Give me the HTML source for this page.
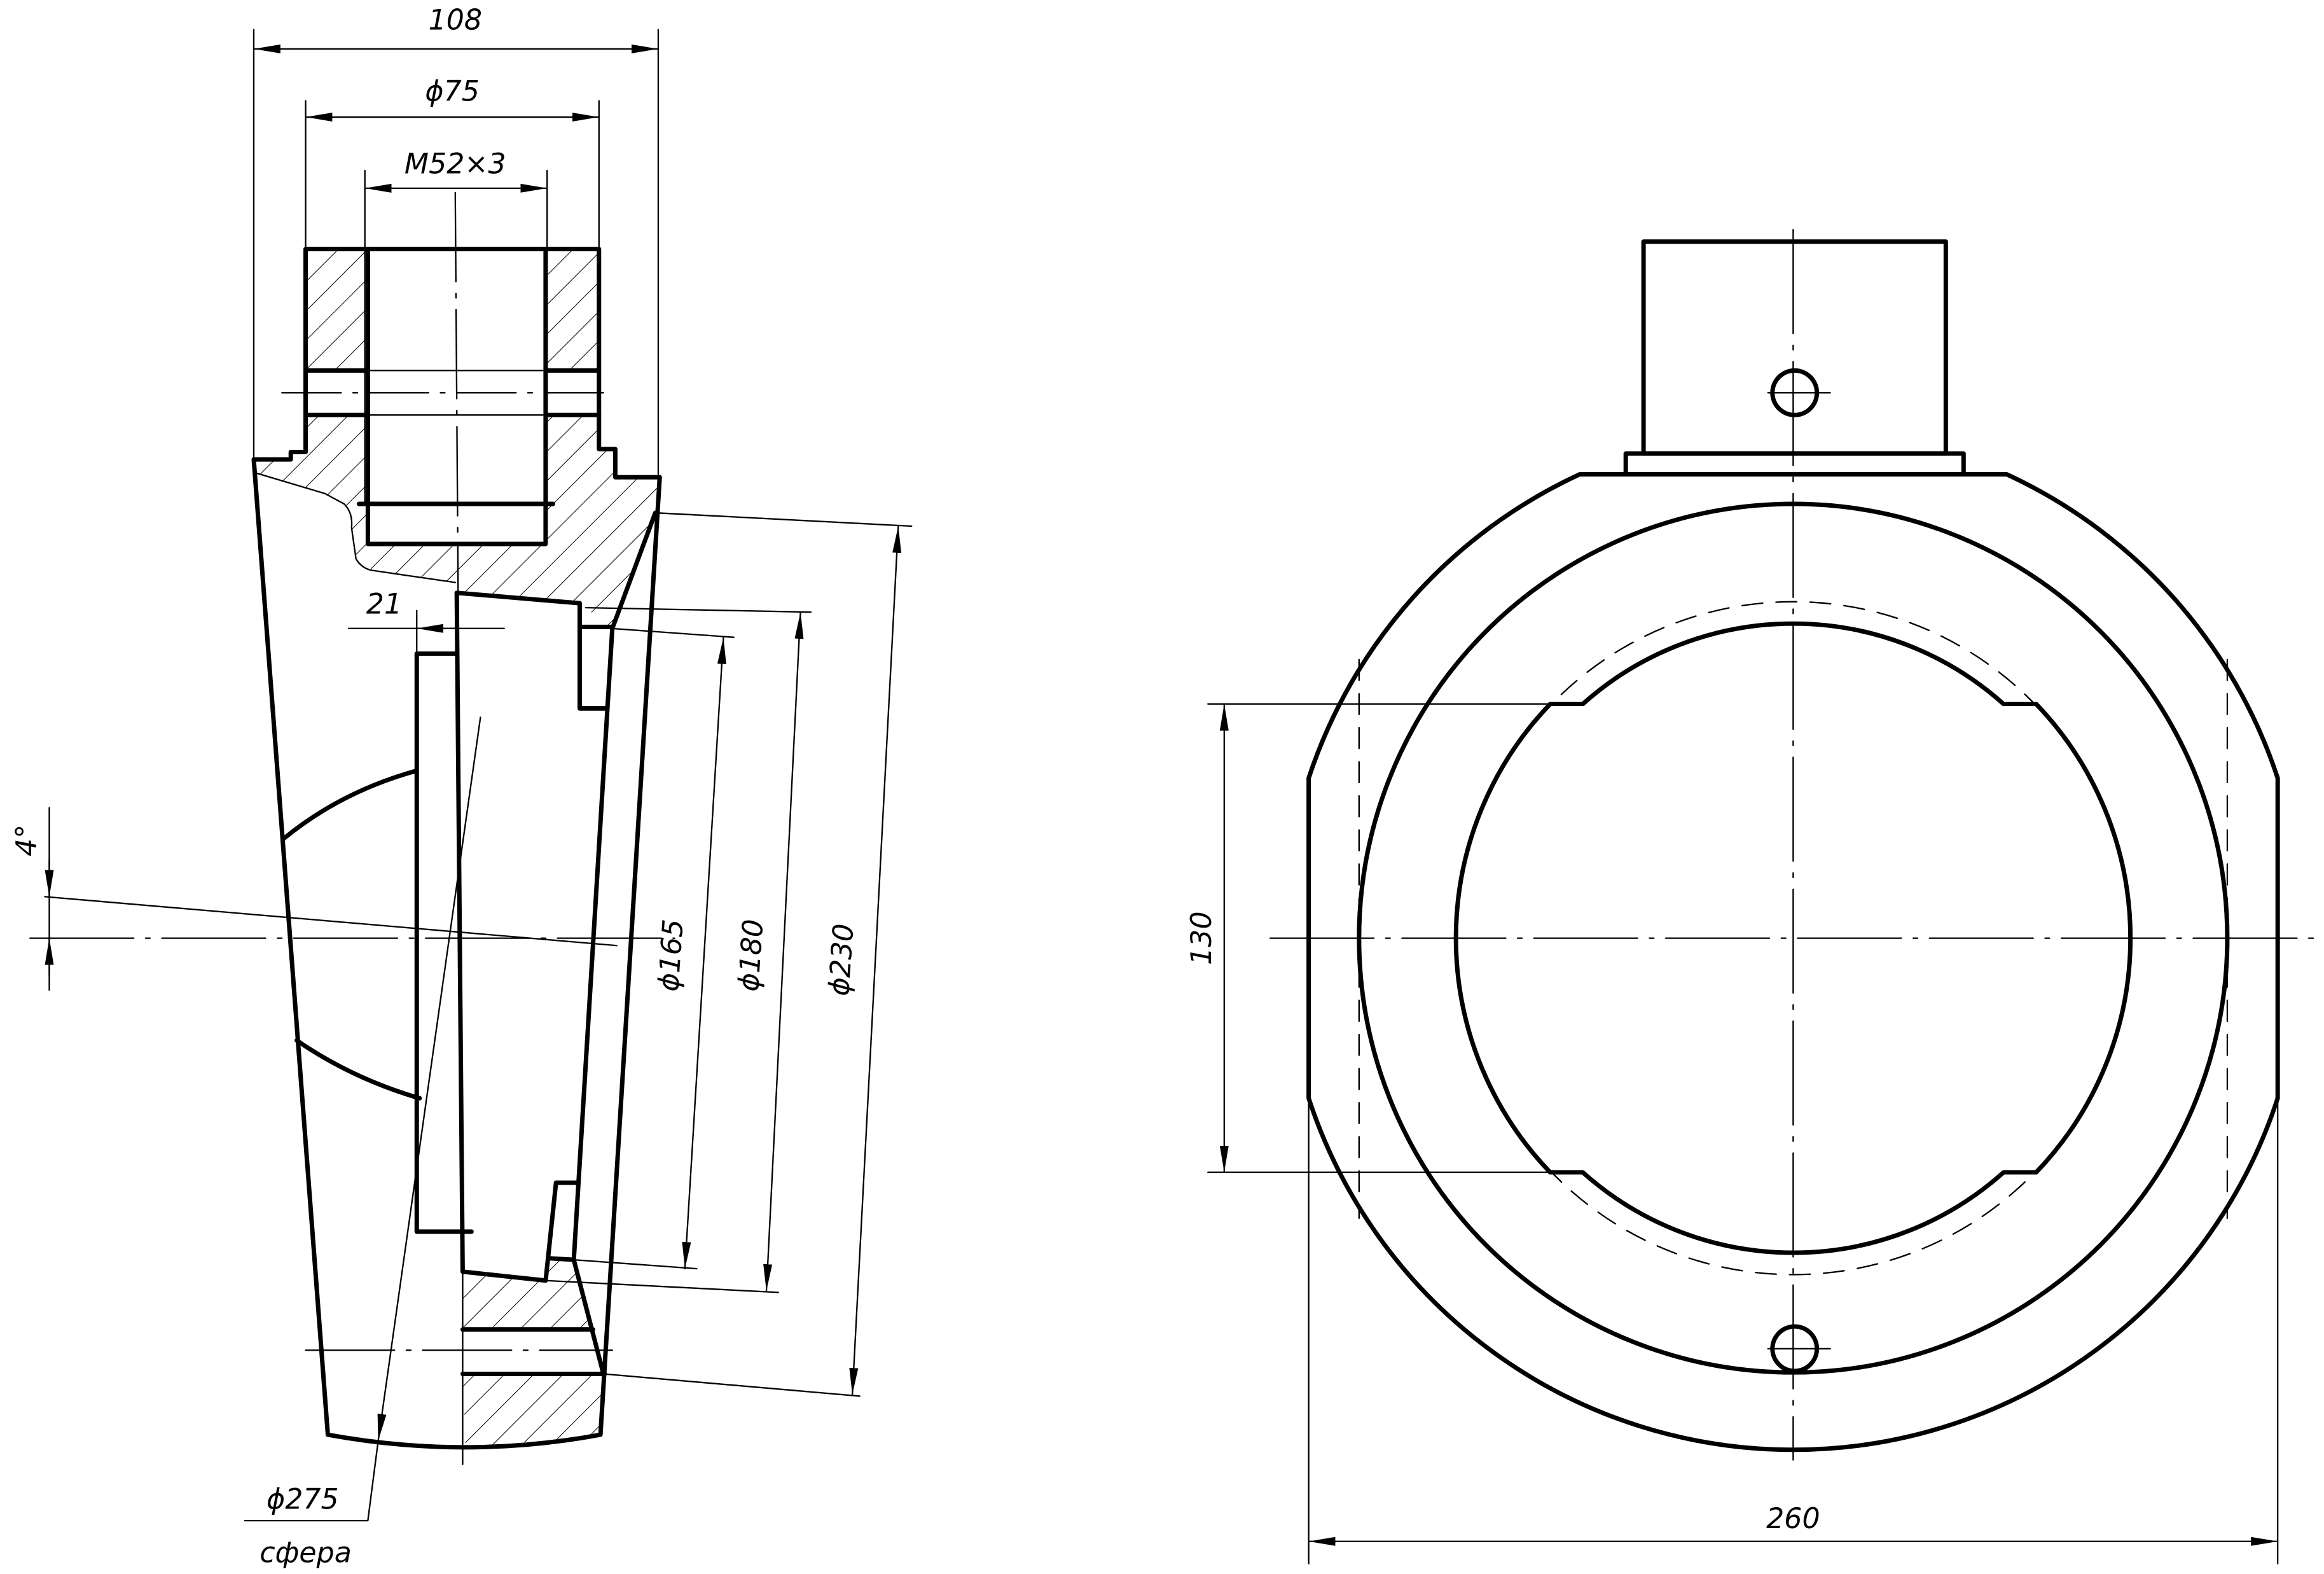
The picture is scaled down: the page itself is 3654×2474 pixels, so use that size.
<!DOCTYPE html>
<html><head><meta charset="utf-8"><style>
html,body{margin:0;padding:0;background:#fff}
svg{display:block}
text{font-family:"DejaVu Sans","Liberation Sans",sans-serif;font-style:italic;fill:#000}
</style></head><body>
<svg width="3654" height="2474" viewBox="0 0 1568 1062" xmlns="http://www.w3.org/2000/svg">
<defs>
<marker id="a" markerUnits="userSpaceOnUse" markerWidth="20" markerHeight="8" refX="18" refY="4" orient="auto-start-reverse" viewBox="0 0 20 8"><path d="M0,1 L18,4 L0,7 Z" fill="#000"/></marker>
<pattern id="h" patternUnits="userSpaceOnUse" width="14" height="14" patternTransform="rotate(45)"><line x1="0" y1="0" x2="0" y2="14" stroke="#000" stroke-width="0.9"/></pattern>
</defs>
<rect width="1568" height="1062" fill="#fff"/>

<!-- hatch regions -->
<g fill="url(#h)" stroke="none">
<rect x="206" y="168" width="42" height="82"/>
<rect x="368" y="168" width="36" height="82"/>
<path d="M206,280 L248,280 L248,367 L368,367 L368,280 L404,280 L404,303 L415,303 L415,322 L445,322 L442,346 L413,424 L391,407 L307,400 L307,393 L252,385 L240,377 L237,356 L232,340 L219,333 L172,319 L171,310 L196,310 L196,305 L206,305 Z"/>
<path d="M312,858 L368,864 L371,849 L387,850 L400,897 L312,897 Z"/>
<path d="M312,927 L407,927 L405,968 L314,977 Z"/>
</g>

<g fill="none" stroke="#000" stroke-linecap="round" stroke-linejoin="round">
<!-- LEFT VIEW thick -->
<g stroke-width="3">
<path d="M206,305 L206,168 L404,168 L404,303 L415,303 L415,322 L445,322 L405,968 Q314,985 221,968 L171,310 L196,310 L196,305 Z"/>
<path d="M248,168 L248,367 L368,367 L368,168"/>
<line x1="206" y1="250" x2="248" y2="250"/><line x1="368" y1="250" x2="404" y2="250"/>
<line x1="206" y1="280" x2="248" y2="280"/><line x1="368" y1="280" x2="404" y2="280"/>
<line x1="242" y1="340" x2="373" y2="340"/>
<path d="M442,346 L413,424 L387,850 L407,927"/>
<path d="M308,400 L391,407 L391,478 L408,478"/>
<line x1="391" y1="423" x2="412" y2="423"/>
<path d="M308,400 L312,858 L368,864 L375,798 L389,798"/>
<line x1="371" y1="849" x2="387" y2="850"/>
<path d="M308,441 L281,441 L281,831 L318,831"/>
<path d="M191,566 Q230,534 281,520"/>
<path d="M200,702 Q238,728 283,741"/>
<line x1="312" y1="897" x2="400" y2="897"/>
<line x1="312" y1="927" x2="408" y2="927"/>
</g>
<!-- thin -->
<g stroke-width="1">
<line x1="248" y1="250" x2="368" y2="250"/><line x1="248" y1="280" x2="368" y2="280"/>
<line x1="246" y1="168" x2="246" y2="340"/><line x1="369" y1="168" x2="369" y2="340"/>
<path d="M172,319 L219,333 L232,340 Q238,346 237,356 L240,377 Q244,384 252,385 L307,393"/>
<line x1="312" y1="858" x2="312" y2="988"/>
<line x1="307" y1="130" x2="309" y2="410" stroke-dasharray="60,8,3,8"/>
<line x1="190" y1="265" x2="415" y2="265" stroke-dasharray="40,8,3,8"/>
<line x1="20" y1="633" x2="455" y2="633" stroke-dasharray="70,8,3,8"/>
<line x1="206" y1="911" x2="413" y2="911" stroke-dasharray="60,8,3,8"/>
<line x1="30" y1="605" x2="416" y2="638"/>
<!-- dims top -->
<line x1="171" y1="20" x2="171" y2="310"/><line x1="444" y1="20" x2="444" y2="320"/>
<line x1="206" y1="68" x2="206" y2="168"/><line x1="404" y1="68" x2="404" y2="168"/>
<line x1="246" y1="115" x2="246" y2="168"/><line x1="369" y1="115" x2="369" y2="168"/>
<line x1="171" y1="33" x2="444" y2="33" marker-start="url(#a)" marker-end="url(#a)"/>
<line x1="206" y1="79" x2="404" y2="79" marker-start="url(#a)" marker-end="url(#a)"/>
<line x1="246" y1="127" x2="369" y2="127" marker-start="url(#a)" marker-end="url(#a)"/>
<!-- 21 -->
<line x1="281" y1="412" x2="281" y2="441"/><line x1="309" y1="400" x2="309" y2="430"/>
<line x1="235" y1="424" x2="340" y2="424"/>
<line x1="309" y1="424" x2="281" y2="424" marker-end="url(#a)"/>
<!-- 4 deg -->
<line x1="33" y1="545" x2="33" y2="668"/>
<line x1="33" y1="580" x2="33" y2="605" marker-end="url(#a)"/>
<line x1="33" y1="658" x2="33" y2="633" marker-end="url(#a)"/>
<!-- diameter dims -->
<line x1="442" y1="346" x2="615" y2="355"/>
<line x1="395" y1="410" x2="547" y2="413"/>
<line x1="412" y1="424" x2="495" y2="430"/>
<line x1="387" y1="850" x2="470" y2="856"/>
<line x1="368" y1="864" x2="525" y2="872"/>
<line x1="407" y1="927" x2="580" y2="942"/>
<line x1="488" y1="430" x2="462" y2="856" marker-start="url(#a)" marker-end="url(#a)"/>
<line x1="540" y1="413" x2="517" y2="871" marker-start="url(#a)" marker-end="url(#a)"/>
<line x1="606" y1="355" x2="575" y2="941" marker-start="url(#a)" marker-end="url(#a)"/>
<!-- phi275 leader -->
<line x1="324" y1="484" x2="255" y2="972" marker-end="url(#a)"/>
<line x1="255" y1="972" x2="248" y2="1026"/>
<line x1="165" y1="1026" x2="248" y2="1026"/>

<!-- RIGHT VIEW -->
<g stroke-width="3">
<rect x="1109" y="163" width="204" height="143"/>
<rect x="1097" y="306" width="228" height="14"/>
<path d="M1066,320 L1354,320 A344,344 0 0 1 1537,525 L1537,741 A344,344 0 0 1 883,741 L883,525 A344,344 0 0 1 1066,320 Z"/>
<circle cx="1210" cy="633" r="293"/>
<path d="M1046,475 L1068,475 A213,213 0 0 1 1352,475 L1374,475 A228,228 0 0 1 1374,791 L1352,791 A213,213 0 0 1 1068,791 L1046,791 A228,228 0 0 1 1046,475 Z"/>
<circle cx="1211" cy="265" r="15"/>
<circle cx="1211" cy="910" r="15"/>
</g>
<circle cx="1210" cy="633" r="227" stroke-width="1" stroke-dasharray="14,9"/>
<line x1="917" y1="445" x2="917" y2="822" stroke-width="1" stroke-dasharray="14,9"/>
<line x1="1503" y1="445" x2="1503" y2="822" stroke-width="1" stroke-dasharray="14,9"/>
<line x1="1210" y1="155" x2="1210" y2="985" stroke-dasharray="70,8,3,8"/>
<line x1="857" y1="633" x2="1565" y2="633" stroke-dasharray="70,8,3,8"/>
<line x1="1193" y1="265" x2="1235" y2="265"/>
<line x1="1193" y1="910" x2="1235" y2="910"/>
<line x1="815" y1="475" x2="1046" y2="475"/>
<line x1="815" y1="791" x2="1046" y2="791"/>
<line x1="826" y1="475" x2="826" y2="791" marker-start="url(#a)" marker-end="url(#a)"/>
<line x1="883" y1="741" x2="883" y2="1055"/>
<line x1="1537" y1="741" x2="1537" y2="1055"/>
<line x1="883" y1="1040" x2="1537" y2="1040" marker-start="url(#a)" marker-end="url(#a)"/>
</g>
</g>

<!-- text -->
<g font-size="19">
<text x="307" y="20" text-anchor="middle">108</text>
<text x="305" y="68" text-anchor="middle">ϕ75</text>
<text x="307" y="117" text-anchor="middle">M52×3</text>
<text x="259" y="414" text-anchor="middle">21</text>
<text transform="translate(24,567) rotate(-90)" text-anchor="middle">4°</text>
<text transform="translate(459,645) rotate(-86)" text-anchor="middle">ϕ165</text>
<text transform="translate(513,645) rotate(-86)" text-anchor="middle">ϕ180</text>
<text transform="translate(574,648) rotate(-86)" text-anchor="middle">ϕ230</text>
<text x="204" y="1018" text-anchor="middle">ϕ275</text>
<text x="206" y="1054" text-anchor="middle">сфера</text>
<text transform="translate(817,633) rotate(-90)" text-anchor="middle">130</text>
<text x="1210" y="1031" text-anchor="middle">260</text>
</g>
</svg>
</body></html>
